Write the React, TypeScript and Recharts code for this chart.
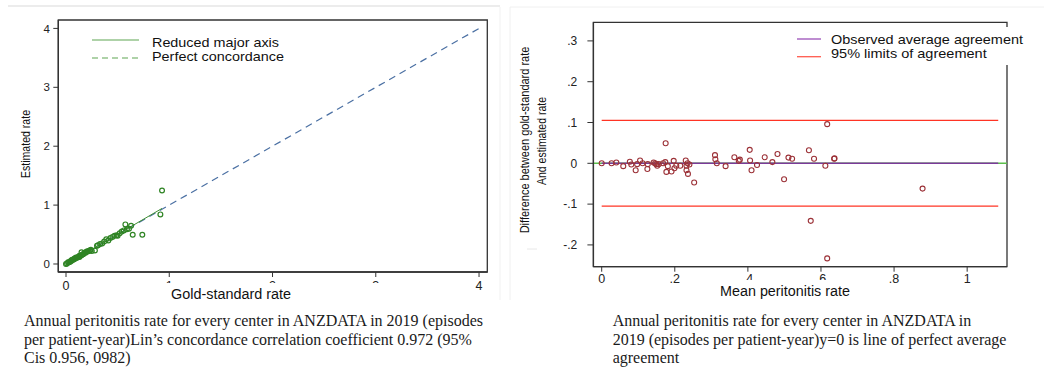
import React from 'react';
import { ScatterChart, Scatter, XAxis, YAxis, ReferenceLine, ReferenceArea } from 'recharts';

// ---------- Left panel data (concordance plot) ----------
const goldRate = [0, 0.01, 0.02, 0.03, 0.04, 0.05, 0.05, 0.06, 0.07, 0.08, 0.08, 0.09, 0.1, 0.1, 0.11, 0.12, 0.13, 0.13, 0.14, 0.15, 0.15, 0.16, 0.17, 0.18, 0.19, 0.2, 0.21, 0.22, 0.23, 0.24, 0.25, 0.28, 0.3, 0.31, 0.33, 0.35, 0.37, 0.39, 0.41, 0.43, 0.45, 0.47, 0.49, 0.5, 0.52, 0.54, 0.56, 0.575, 0.59, 0.61, 0.63, 0.646, 0.739, 0.914, 0.93];
const estimatedRate = [0, 0.01, 0.03, 0.03, 0.04, 0.05, 0.06, 0.07, 0.07, 0.08, 0.09, 0.1, 0.1, 0.11, 0.11, 0.12, 0.12, 0.14, 0.14, 0.15, 0.2, 0.16, 0.17, 0.19, 0.19, 0.21, 0.21, 0.22, 0.23, 0.24, 0.22, 0.23, 0.31, 0.32, 0.34, 0.35, 0.38, 0.42, 0.4, 0.44, 0.46, 0.48, 0.49, 0.48, 0.52, 0.55, 0.57, 0.672, 0.59, 0.6, 0.65, 0.497, 0.497, 0.842, 1.249];
const leftTicks = [0, 1, 2, 3, 4];
const leftXDomain = [-0.0746, 4.08];
const leftYDomain = [-0.136, 4.143];
const perfectLine = [{ x: 0, y: 0 }, { x: 4, y: 4 }];
const rmaLine = [{ x: 0, y: -0.01 }, { x: 0.93, y: 0.944 }];

// ---------- Right panel data (Bland-Altman) ----------
const meanRate = [0, 0.027, 0.04, 0.059, 0.077, 0.081, 0.093, 0.097, 0.105, 0.112, 0.125, 0.126, 0.142, 0.146, 0.149, 0.152, 0.156, 0.168, 0.174, 0.175, 0.177, 0.181, 0.191, 0.197, 0.199, 0.204, 0.215, 0.23, 0.232, 0.232, 0.235, 0.236, 0.24, 0.253, 0.31, 0.311, 0.315, 0.339, 0.363, 0.375, 0.378, 0.405, 0.406, 0.41, 0.425, 0.446, 0.467, 0.481, 0.499, 0.511, 0.521, 0.567, 0.572, 0.581, 0.612, 0.617, 0.617, 0.636, 0.637, 0.878];
const diffRate = [0, 0, 0.002, -0.007, 0.004, -0.003, -0.017, -0.002, 0.007, 0, -0.014, -0.002, 0.002, 0, -0.002, -0.006, -0.002, 0, 0.003, 0.049, -0.021, -0.007, -0.02, 0.006, -0.012, -0.006, -0.006, 0.007, -0.006, -0.017, 0, -0.026, -0.003, -0.047, 0.02, 0.01, 0, -0.007, 0.015, 0.006, 0.009, 0.033, 0.007, -0.017, -0.004, 0.015, 0.003, 0.023, -0.039, 0.014, 0.011, 0.032, -0.141, 0.011, -0.006, 0.096, -0.233, 0.011, 0.012, -0.062];
const rightXTicks = [0, 0.2, 0.4, 0.6, 0.8, 1];
const rightYTicks = [-0.2, -0.1, 0, 0.1, 0.2, 0.3];
const rightXDomain = [-0.0227, 1.109];
const rightYDomain = [-0.2534, 0.3456];
const averageAgreement = 0;
const upperLimit = 0.105;
const lowerLimit = -0.105;
const limitSpan = [0, 1.085];

const leftData = goldRate.map((g, i) => ({ x: g, y: estimatedRate[i] }));
const rightData = meanRate.map((m, i) => ({ x: m, y: diffRate[i] }));

const SANS = '"Liberation Sans", Arial, Helvetica, sans-serif';
const SERIF = '"Liberation Serif", "Times New Roman", serif';
const AX = '#333';

const fmtStata = (v: number) => {
  if (v === 0) return '0';
  if (Number.isInteger(v)) return String(v);
  const s = String(Math.abs(v)).replace(/^0\./, '.');
  return (v < 0 ? '-' : '') + s;
};

const LeftXTick = (props: any) => {
  const { x, payload } = props;
  const v = payload.value;
  const full = v === 0 || v === 4;
  const id = `lxclip${v}`;
  return (
    <g>
      {!full && (
        <clipPath id={id}>
          <rect x={x - 10} y={270} width={20} height={13} />
        </clipPath>
      )}
      <text x={x} y={290} textAnchor="middle" fontSize={12.5} fill="#222" fontFamily={SANS} clipPath={full ? undefined : `url(#${id})`}>
        {v}
      </text>
    </g>
  );
};

const LeftYTick = (props: any) => {
  const { y, payload } = props;
  return (
    <text x={50} y={y} dy="0.36em" textAnchor="end" fontSize={11.5} fill="#222" fontFamily={SANS}>
      {payload.value}
    </text>
  );
};

const RightXTick = (props: any) => {
  const { x, payload } = props;
  const v = payload.value;
  const clipped = v === 0.4 || v === 0.6;
  const id = `rxclip${String(v).replace('.', '_')}`;
  return (
    <g>
      {clipped && (
        <clipPath id={id}>
          <rect x={x - 12} y={268} width={24} height={12} />
        </clipPath>
      )}
      <text x={x} y={283.3} textAnchor="middle" fontSize={12.5} fill="#222" fontFamily={SANS} clipPath={clipped ? `url(#${id})` : undefined}>
        {fmtStata(v)}
      </text>
    </g>
  );
};

const RightYTick = (props: any) => {
  const { y, payload } = props;
  return (
    <text x={77.3} y={y} dy="0.36em" textAnchor="end" fontSize={12} fill="#222" fontFamily={SANS}>
      {fmtStata(payload.value)}
    </text>
  );
};

const GreenCircle = (props: any) => (
  <circle cx={props.cx} cy={props.cy} r={2.4} fill="none" stroke="#2f8424" strokeWidth={1.2} />
);
const MaroonCircle = (props: any) => (
  <circle cx={props.cx} cy={props.cy} r={2.5} fill="none" stroke="#9c3238" strokeWidth={1.1} />
);

export default function App() {
  return (
    <div style={{ position: 'absolute', left: 0, top: 0, width: 1044, height: 367, background: '#fff', overflow: 'hidden' }}>
      {/* Left chart */}
      <div style={{ position: 'absolute', left: 0, top: 0 }}>
        <ScatterChart width={500} height={300} margin={{ top: 20, right: 12.7, bottom: 0, left: 0 }}>
          <XAxis
            type="number"
            dataKey="x"
            domain={leftXDomain}
            ticks={leftTicks}
            allowDataOverflow
            height={28}
            tickSize={5}
            axisLine={{ stroke: AX, strokeWidth: 1.3 }}
            tickLine={{ stroke: AX }}
            tick={<LeftXTick />}
          />
          <YAxis
            type="number"
            dataKey="y"
            domain={leftYDomain}
            ticks={leftTicks}
            allowDataOverflow
            width={58.3}
            tickSize={5}
            axisLine={{ stroke: AX, strokeWidth: 1.3 }}
            tickLine={{ stroke: AX }}
            tick={<LeftYTick />}
          />
          <ReferenceLine segment={perfectLine} stroke="#4b70a3" strokeWidth={1.2} strokeDasharray="7 5" />
          <ReferenceLine segment={rmaLine} stroke="#3f8f32" strokeWidth={1} />
          <Scatter data={leftData} isAnimationActive={false} shape={<GreenCircle />} />
          <ReferenceArea x1={leftXDomain[0]} x2={leftXDomain[1]} y1={leftYDomain[0]} y2={leftYDomain[1]} fill="none" stroke={AX} strokeWidth={1.3} />
        </ScatterChart>
      </div>

      {/* Right chart */}
      <div style={{ position: 'absolute', left: 500, top: 0 }}>
        <ScatterChart width={544} height={300} margin={{ top: 22.3, right: 37, bottom: 0, left: 0 }}>
          <XAxis
            type="number"
            dataKey="x"
            domain={rightXDomain}
            ticks={rightXTicks}
            allowDataOverflow
            height={33.3}
            tickSize={5}
            axisLine={{ stroke: AX, strokeWidth: 1.3 }}
            tickLine={{ stroke: AX }}
            tick={<RightXTick />}
          />
          <YAxis
            type="number"
            dataKey="y"
            domain={rightYDomain}
            ticks={rightYTicks}
            allowDataOverflow
            width={93.4}
            tickSize={6}
            axisLine={{ stroke: AX, strokeWidth: 1.3 }}
            tickLine={{ stroke: AX }}
            tick={<RightYTick />}
          />
          <ReferenceLine y={averageAgreement} stroke="#5cc04c" strokeWidth={1.4} />
          <ReferenceLine segment={[{ x: limitSpan[0], y: averageAgreement }, { x: limitSpan[1], y: averageAgreement }]} stroke="#7b3a9a" strokeWidth={1.4} />
          <ReferenceLine segment={[{ x: limitSpan[0], y: upperLimit }, { x: limitSpan[1], y: upperLimit }]} stroke="#ff3424" strokeWidth={1.3} />
          <ReferenceLine segment={[{ x: limitSpan[0], y: lowerLimit }, { x: limitSpan[1], y: lowerLimit }]} stroke="#ff3424" strokeWidth={1.3} />
          <Scatter data={rightData} isAnimationActive={false} shape={<MaroonCircle />} />
          <ReferenceArea x1={rightXDomain[0]} x2={rightXDomain[1]} y1={rightYDomain[0]} y2={rightYDomain[1]} fill="none" stroke={AX} strokeWidth={1.3} />
        </ScatterChart>
      </div>

      {/* Titles, legends and captions */}
      <svg width={1044} height={367} style={{ position: 'absolute', left: 0, top: 0, pointerEvents: 'none' }}>
        {/* faint image borders */}
        <line x1={8} x2={500} y1={6} y2={6} stroke="#d9d9d9" strokeWidth={1} />
        <line x1={500} x2={500} y1={7} y2={300} stroke="#f1f1f1" strokeWidth={1} />
        <line x1={510} x2={510} y1={7} y2={300} stroke="#f0f0f0" strokeWidth={1} />
        <line x1={510} x2={1044} y1={7} y2={7} stroke="#f0f0f0" strokeWidth={1} />
        <line x1={527} x2={537} y1={249} y2={249} stroke="#e8e8e8" strokeWidth={1} />

        {/* left axis titles */}
        <text x={231} y={294} textAnchor="middle" dominantBaseline="central" fontSize={14} fill="#111" fontFamily={SANS} textLength={120} lengthAdjust="spacingAndGlyphs">Gold-standard rate</text>
        <text transform="translate(26,144) rotate(-90)" textAnchor="middle" dominantBaseline="central" fontSize={12} fill="#111" fontFamily={SANS} textLength={68} lengthAdjust="spacingAndGlyphs">Estimated rate</text>

        {/* left legend */}
        <line x1={92} x2={139} y1={40} y2={40} stroke="#5fa552" strokeWidth={1.2} />
        <line x1={92} x2={139} y1={58} y2={58} stroke="#5fa552" strokeWidth={1.2} strokeDasharray="6 4" />
        <text x={152} y={42} dominantBaseline="central" fontSize={13.5} fill="#111" fontFamily={SANS} textLength={127} lengthAdjust="spacingAndGlyphs">Reduced major axis</text>
        <text x={152} y={56} dominantBaseline="central" fontSize={13.5} fill="#111" fontFamily={SANS} textLength={132} lengthAdjust="spacingAndGlyphs">Perfect concordance</text>

        {/* right axis titles */}
        <text x={785} y={291} textAnchor="middle" dominantBaseline="central" fontSize={14} fill="#111" fontFamily={SANS} textLength={130} lengthAdjust="spacingAndGlyphs">Mean peritonitis rate</text>
        <text transform="translate(525,140) rotate(-90)" textAnchor="middle" dominantBaseline="central" fontSize={12} fill="#111" fontFamily={SANS} textLength={186.7} lengthAdjust="spacingAndGlyphs">Difference between gold-standard rate</text>
        <text transform="translate(541.7,141) rotate(-90)" textAnchor="middle" dominantBaseline="central" fontSize={12} fill="#111" fontFamily={SANS} textLength={88} lengthAdjust="spacingAndGlyphs">And estimated rate</text>

        {/* right legend */}
        <rect x={783} y={27} width={227} height={38} fill="#fff" />
        <line x1={797} x2={821} y1={39} y2={39} stroke="#9b4fb8" strokeWidth={1.3} />
        <line x1={797} x2={821} y1={56.7} y2={56.7} stroke="#ff5b4f" strokeWidth={1.3} />
        <text x={831} y={39} dominantBaseline="central" fontSize={13.5} fill="#111" fontFamily={SANS} textLength={192} lengthAdjust="spacingAndGlyphs">Observed average agreement</text>
        <text x={831} y={53.7} dominantBaseline="central" fontSize={13.5} fill="#111" fontFamily={SANS} textLength={155.7} lengthAdjust="spacingAndGlyphs">95% limits of agreement</text>

        {/* captions */}
        <g fontFamily={SERIF} fontSize={16} fill="#1a1a1a">
          <text x={24} y={325.7}>Annual peritonitis rate for every center in ANZDATA in 2019 (episodes</text>
          <text x={24} y={344.7}>per patient-year)Lin’s concordance correlation coefficient 0.972 (95%</text>
          <text x={24} y={363.3}>Cis 0.956, 0982)</text>
          <text x={612.7} y={325.7}>Annual peritonitis rate for every center in ANZDATA in</text>
          <text x={612.7} y={344.7}>2019 (episodes per patient-year)y=0 is line of perfect average</text>
          <text x={612.7} y={363.3}>agreement</text>
        </g>
      </svg>
    </div>
  );
}
